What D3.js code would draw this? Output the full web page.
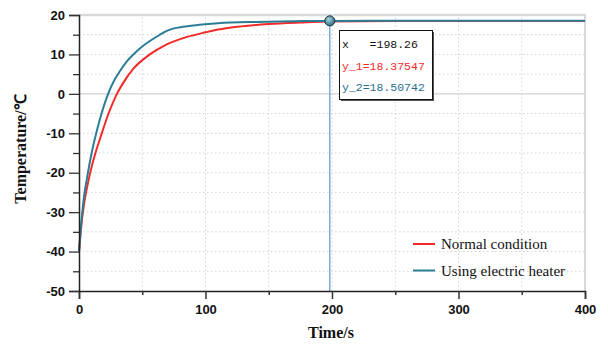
<!DOCTYPE html>
<html><head><meta charset="utf-8">
<script src="https://cdn.jsdelivr.net/npm/d3@7/dist/d3.min.js"></script>
<style>body{margin:0;background:#fff}svg{display:block}</style>
</head><body>
<svg id="c" width="608" height="344"></svg>
<script>
// ---- data ----
const normalT = [0, 2.5, 5, 7.5, 10, 13, 17, 23, 30, 36, 43, 56, 69, 85, 100, 110, 125, 150, 175, 198.26, 250, 300, 400];
const normalV = [-40, -31.5, -26, -22, -18.5, -15, -11, -5.3, 0, 3.3, 6.4, 10, 12.5, 14.4, 15.6, 16.3, 17, 17.7, 18.1, 18.37547, 18.48, 18.5, 18.5];
const heaterT = [0, 2, 4, 6, 10, 14, 18, 23, 28, 32, 38, 43, 50, 56, 63, 69, 75, 82, 95, 110, 140, 170, 198.26, 260, 400];
const heaterV = [-40, -32, -26, -22, -15, -9.5, -4.8, 0, 3.5, 5.6, 8.3, 10, 12, 13.4, 14.8, 15.9, 16.6, 17, 17.5, 17.9, 18.25, 18.42, 18.50742, 18.52, 18.52];
const xTicks = [0, 100, 200, 300, 400];
const yTicks = [-50, -40, -30, -20, -10, 0, 10, 20];
const seriesNames = ["Normal condition", "Using electric heater"];
const cursorX = 198.26;
const tipLines = ["x   =198.26", "y_1=18.37547", "y_2=18.50742"];

const red = "#f22a2a", teal = "#2b7d96";
const svg = d3.select("#c");
const x = d3.scaleLinear().domain([0, 400]).range([79, 585]);
const y = d3.scaleLinear().domain([-50, 20]).range([291, 15]);

// grid
const g = svg.append("g");
d3.range(-45, 20, 5).filter(v => v !== 0).forEach(v => {
  g.append("line").attr("x1", x(0)).attr("x2", x(400)).attr("y1", y(v)).attr("y2", y(v))
   .attr("stroke", "#d4d4d4").attr("stroke-dasharray", "1.5,2.5");
});
d3.range(50, 400, 50).forEach(t => {
  g.append("line").attr("x1", x(t)).attr("x2", x(t)).attr("y1", y(-50)).attr("y2", y(20))
   .attr("stroke", "#d4d4d4").attr("stroke-dasharray", "1.5,2.5");
});
g.append("line").attr("x1", x(0)).attr("x2", x(400)).attr("y1", y(0)).attr("y2", y(0)).attr("stroke", "#cfcfcf").attr("stroke-width", 1.2);
g.append("line").attr("x1", x(0)).attr("x2", x(400)+1).attr("y1", y(20)).attr("y2", y(20)).attr("stroke", "#d9d9d9").attr("stroke-width", 2.5);
g.append("line").attr("x1", x(400)).attr("x2", x(400)).attr("y1", y(20)).attr("y2", y(-50)).attr("stroke", "#d9d9d9").attr("stroke-width", 2);

// cursor line
svg.append("line").attr("x1", x(cursorX)).attr("x2", x(cursorX)).attr("y1", y(20)).attr("y2", y(-50))
  .attr("stroke", "#5b9bd5").attr("stroke-width", 1.2);

// lines
const line = d3.line().x(d => x(d[0])).y(d => y(d[1])).curve(d3.curveMonotoneX);
svg.append("path").datum(normalT.map((t, i) => [t, normalV[i]])).attr("d", line)
  .attr("fill", "none").attr("stroke", red).attr("stroke-width", 2);
svg.append("path").datum(heaterT.map((t, i) => [t, heaterV[i]])).attr("d", line)
  .attr("fill", "none").attr("stroke", teal).attr("stroke-width", 2);

// axes
const fontTick = "bold 13px 'Liberation Sans', Arial, sans-serif";
const xAxis = d3.axisBottom(x).tickValues(xTicks).tickSize(8).tickFormat(d => String(d));
const xa = svg.append("g").attr("transform", `translate(0,${y(-50)})`).call(xAxis);
xa.select(".domain").attr("stroke", "#222").attr("stroke-width", 1.5);
xa.selectAll(".tick line").attr("stroke", "#333").attr("stroke-width", 1.5);
xa.selectAll("text").attr("fill", "#111").style("font", fontTick).attr("dy", "0.95em");
const xMinor = d3.axisBottom(x).tickValues(d3.range(50, 400, 100)).tickSize(4).tickFormat("");
const xm = svg.append("g").attr("transform", `translate(0,${y(-50)})`).call(xMinor);
xm.select(".domain").remove();
xm.selectAll(".tick line").attr("stroke", "#333").attr("stroke-width", 1.5);

const yAxis = d3.axisLeft(y).tickValues(yTicks).tickSize(10).tickPadding(4).tickFormat(d => String(d));
const ya = svg.append("g").attr("transform", `translate(${x(0)},0)`).call(yAxis);
ya.select(".domain").attr("stroke", "#222").attr("stroke-width", 1.5);
ya.selectAll(".tick line").attr("stroke", "#333").attr("stroke-width", 1.3);
ya.selectAll("text").attr("fill", "#111").style("font", fontTick);
const yMinor = d3.axisLeft(y).tickValues(d3.range(-45, 20, 10)).tickSize(6).tickFormat("");
const ym = svg.append("g").attr("transform", `translate(${x(0)},0)`).call(yMinor);
ym.select(".domain").remove();
ym.selectAll(".tick line").attr("stroke", "#333").attr("stroke-width", 1.3);

// axis titles
svg.append("text").attr("x", 331).attr("y", 338).attr("text-anchor", "middle")
  .style("font", "bold 16px 'Liberation Serif', 'Times New Roman', serif").attr("fill", "#111").text("Time/s");
svg.append("text").attr("transform", "translate(26,149) rotate(-90)").attr("text-anchor", "middle")
  .style("font", "bold 16px 'Liberation Serif', 'Times New Roman', serif").attr("fill", "#111").text("Temperature/℃");

// cursor marker
const defs = svg.append("defs");
const rg = defs.append("radialGradient").attr("id", "mg").attr("cx", "40%").attr("cy", "35%").attr("r", "65%");
rg.append("stop").attr("offset", "0%").attr("stop-color", "#a8d4e0");
rg.append("stop").attr("offset", "100%").attr("stop-color", "#2d6f82");
svg.append("circle").attr("cx", x(cursorX)).attr("cy", y(18.50742)).attr("r", 5)
  .attr("fill", "url(#mg)").attr("stroke", "#1e3440").attr("stroke-width", 1);

// tooltip
svg.append("rect").attr("x", 341).attr("y", 32).attr("width", 93).attr("height", 69).attr("fill", "#555");
svg.append("rect").attr("x", 339.5).attr("y", 30.5).attr("width", 93).attr("height", 69)
  .attr("fill", "#fff").attr("stroke", "#111").attr("stroke-width", 1);
const tipColors = ["#111", red, "#1f6e8c"];
tipLines.forEach((s, i) => {
  svg.append("text").attr("x", 342).attr("y", 48 + i * 21.5).attr("fill", tipColors[i])
    .style("font", "11.5px 'Liberation Mono', 'DejaVu Sans Mono', monospace").attr("xml:space", "preserve").text(s);
});

// legend
const lg = svg.append("g");
[red, teal].forEach((c, i) => {
  const ly = 244 + i * 26.5;
  lg.append("line").attr("x1", 413).attr("x2", 435).attr("y1", ly).attr("y2", ly).attr("stroke", c).attr("stroke-width", 2);
  lg.append("text").attr("x", 441).attr("y", ly + 5).attr("fill", "#111")
    .style("font", "15px 'Liberation Serif', 'Times New Roman', serif").text(seriesNames[i]);
});
</script>
</body></html>
